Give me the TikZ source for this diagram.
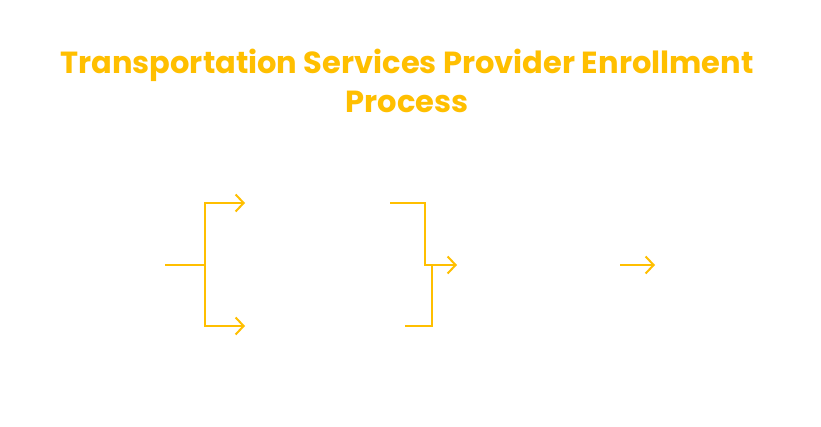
\documentclass[tikz,border=0pt]{standalone}
\usepackage{fontspec}
\setmainfont{Poppins}
\usetikzlibrary{arrows.meta}
\definecolor{amber}{HTML}{FFBF00}
\begin{document}
\begin{tikzpicture}[x=1pt,y=-1pt,
  conn/.style={draw=amber,line width=2pt,line join=miter},
  arr/.style={conn,-{Straight Barb[length=8pt,width=17pt,line width=2pt]}},
  box/.style={inner sep=0pt,minimum width=1pt,minimum height=1pt}]
\useasboundingbox[fill=white] (0,0) rectangle (821,427);
\node[font=\bfseries\fontsize{30.5}{39}\selectfont,text=amber,align=center] (title) at (407,81) {Transportation Services Provider Enrollment\\Process};
\node[box] (start) at (95,265) {};
\node[box] (top) at (318,203) {};
\node[box] (bot) at (325,326) {};
\node[box] (mid) at (535,265) {};
\node[box] (end) at (710,265) {};
\coordinate (s) at (165,265);
\coordinate (j) at (205,265);
\coordinate (t1) at (390,203);
\coordinate (b1) at (405,326);
\coordinate (m0) at (620,265);
\draw[conn] (s) -- (j);
\draw[arr] (j) |- ([xshift=-73pt]top.center);
\draw[arr] (j) |- ([xshift=-80pt]bot.center);
\draw[arr] (t1) -| (425,265) -- ([xshift=-78pt]mid.center);
\draw[conn] (b1) -| (432,265);
\draw[arr] (m0) -- ([xshift=-55pt]end.center);
\end{tikzpicture}
\end{document}
